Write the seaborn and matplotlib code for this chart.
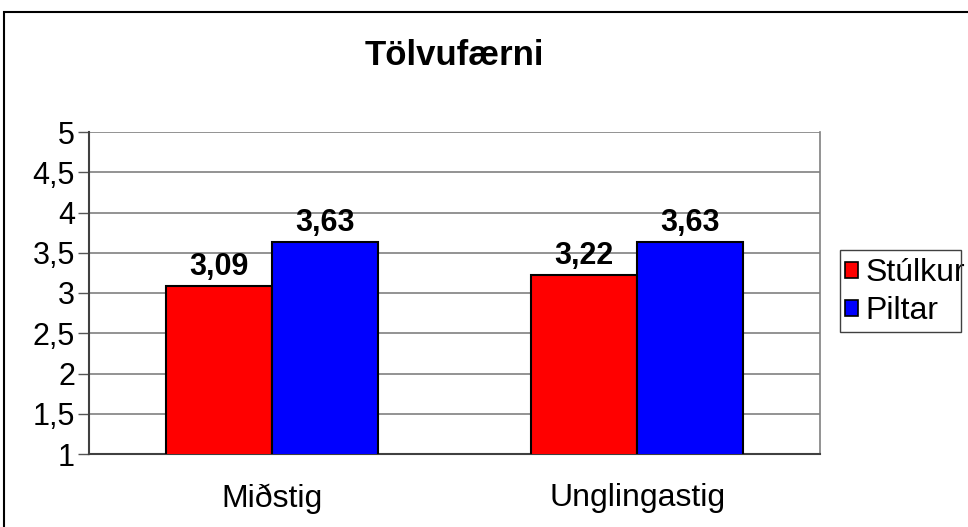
import pandas as pd
import matplotlib.pyplot as plt
import seaborn as sns
from matplotlib.patches import Rectangle

# Gögn
stig = ['Miðstig', 'Unglingastig']
hopar = ['Stúlkur', 'Piltar']
stulkur = [3.09, 3.22]
piltar = [3.63, 3.63]
y_ticks = [1, 1.5, 2, 2.5, 3, 3.5, 4, 4.5, 5]
litir = ['#ff0000', '#0000ff']


def teikna():
    df = pd.DataFrame({
        'stig': stig * 2,
        'hopur': [hopar[0]] * len(stig) + [hopar[1]] * len(stig),
        'gildi': stulkur + piltar,
    })

    sns.set_style('white')
    plt.rcParams['font.family'] = ['Liberation Sans', 'DejaVu Sans']
    plt.rcParams['text.color'] = 'black'
    plt.rcParams['xtick.color'] = 'black'
    plt.rcParams['ytick.color'] = 'black'
    plt.rcParams['axes.labelcolor'] = 'black'

    fig = plt.figure(figsize=(9.68, 5.27), dpi=100)
    ax = fig.add_axes([89 / 968, 1 - 454 / 527, (820 - 89) / 968, (454 - 132) / 527])

    sns.barplot(data=df, x='stig', y='gildi', hue='hopur', palette=litir,
                saturation=1, width=0.58, edgecolor='black', linewidth=1.5,
                ax=ax, legend=True, zorder=3)

    ax.set_ylim(1, 5)
    ax.set_xlim(-0.5, 1.5)
    ax.set_yticks(y_ticks)
    ax.set_yticklabels([f'{v:g}'.replace('.', ',') for v in y_ticks], fontsize=22)
    ax.set_xticks(range(len(stig)))
    ax.set_xticklabels(stig, fontsize=23)
    ax.set_xticks([-0.5, 0.5, 1.5], minor=True)
    ax.tick_params(axis='x', which='major', length=0, pad=21)
    ax.tick_params(axis='x', which='minor', length=8, color='#555555', width=1)
    ax.tick_params(axis='y', length=8, color='#555555', labelcolor='black',
                   width=1, pad=2, left=True)
    ax.tick_params(axis='x', labelcolor='black')
    ax.set_xlabel('')
    ax.set_ylabel('')

    ax.yaxis.grid(True, color='#808080', linewidth=1.2, zorder=0)
    ax.set_axisbelow(True)
    for s in ['left', 'bottom']:
        ax.spines[s].set_color('#404040')
        ax.spines[s].set_linewidth(1.5)
    ax.spines['top'].set_visible(False)
    ax.spines['right'].set_color('#808080')
    ax.spines['right'].set_linewidth(1.2)

    for cont in ax.containers:
        ax.bar_label(cont, labels=[f'{v:.2f}'.replace('.', ',') for v in cont.datavalues],
                     fontsize=22, fontweight='bold', padding=3, color='black')

    ax.set_title('Tölvufærni', fontsize=25, fontweight='bold', pad=48, color='black')

    leg = ax.legend(loc='center left', bbox_to_anchor=(845 / 968, 1 - 292 / 527),
                    bbox_transform=fig.transFigure, fontsize=23, frameon=False,
                    handlelength=0.4, handleheight=0.4,
                    handletextpad=0.25, borderpad=0, labelspacing=0.25,
                    borderaxespad=0)
    for h in leg.legend_handles:
        h.set_linewidth(1.2)
    for t in leg.get_texts():
        t.set_color('black')

    # rammi utan um skýringu
    fig.patches.append(Rectangle((840 / 968, 1 - 332 / 527), 121 / 968, 82 / 527,
                                 transform=fig.transFigure, fill=False,
                                 edgecolor='#404040', linewidth=1))

    # ytri rammi
    fig.patches.append(Rectangle((4 / 968, -0.05), 1.1, 1 - 12 / 527 + 0.05,
                                 transform=fig.transFigure, fill=False,
                                 edgecolor='black', linewidth=1.5))

    fig.savefig('out.png', dpi=100)


if __name__ == '__main__':
    teikna()
